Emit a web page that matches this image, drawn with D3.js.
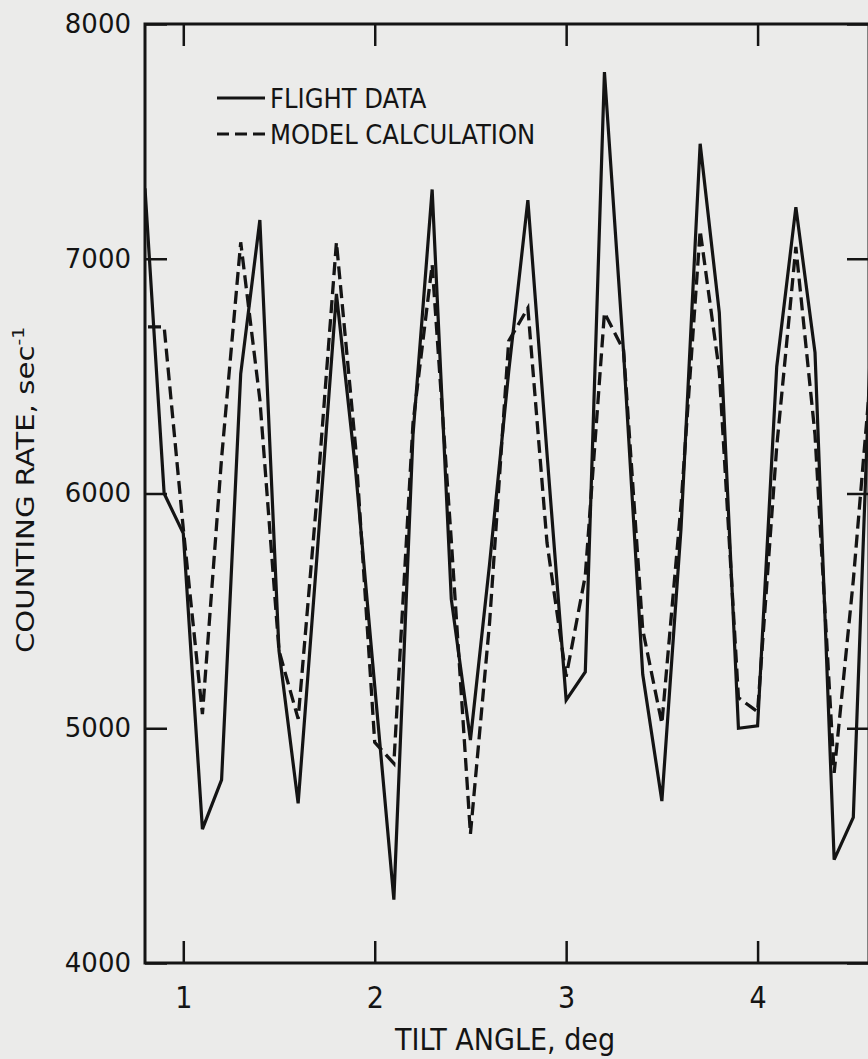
<!DOCTYPE html>
<html>
<head>
<meta charset="utf-8">
<script src="https://cdn.jsdelivr.net/npm/d3@7"></script>
<style>
  body { margin: 0; background: #ebebea; }
  svg { display: block; }
</style>
</head>
<body>
<svg width="868" height="1059"></svg>
<script>
var svg = d3.select('svg')

// tilt angle, deg
var tilt = [0.8, 0.9, 1.0, 1.1, 1.2, 1.3, 1.4, 1.5, 1.6, 1.7, 1.8, 1.9, 2.0, 2.1, 2.2, 2.3, 2.4, 2.5, 2.6, 2.7,
	2.8, 2.9, 3.0, 3.1, 3.2, 3.3, 3.4, 3.5, 3.6, 3.7, 3.8, 3.9, 4.0, 4.1, 4.2, 4.3, 4.4, 4.5, 4.6]

// counting rate, sec^-1
var flightData = [7300, 6000, 5830, 4570, 4780, 6510, 7165, 5330, 4680, 5750, 6850, 6100, 5180, 4270, 6250, 7295, 5550, 4950, 5700, 6520,
	7250, 6170, 5120, 5240, 7795, 6600, 5230, 4690, 5850, 7490, 6770, 5000, 5010, 6540, 7220, 6600, 4440, 4620, 6870]

var modelCalc = [6710, 6710, 5850, 5060, 6150, 7070, 6400, 5330, 5040, 6000, 7070, 6200, 4940, 4850, 6300, 6975, 5800, 4550, 5450, 6650,
	6790, 5790, 5220, 5650, 6770, 6610, 5420, 5020, 5950, 7120, 6520, 5130, 5070, 6200, 7050, 6250, 4810, 5630, 6600]

var xTicks = [1, 2, 3, 4]
var yTicks = [4000, 5000, 6000, 7000, 8000]

var legendItems = [
	{name: "FLIGHT DATA", dash: null},
	{name: "MODEL CALCULATION", dash: "12,6"}
]

var plotLeft = 145, plotRight = 869, plotTop = 24, plotBottom = 963
var narrow = "'Liberation Sans Narrow', 'DejaVu Sans Condensed', 'Arial Narrow', sans-serif"
var ink = '#141414'

var x = d3.scaleLinear().domain([0.8, 4.582]).range([plotLeft, plotRight])
var y = d3.scaleLinear().domain([4000, 8000]).range([plotBottom, plotTop])

svg.append('defs').append('clipPath').attr('id', 'plot')
	.append('rect')
	.attr('x', plotLeft).attr('y', plotTop)
	.attr('width', plotRight - plotLeft).attr('height', plotBottom - plotTop)

//Axes, ticks pointing inwards
function styleAxis(g) {
	g.select('.domain').remove()
	g.selectAll('.tick line').attr('stroke', ink).attr('stroke-width', 2.5)
	g.selectAll('.tick text').attr('fill', ink)
}

svg.append('g')
	.attr('transform', 'translate(0,' + plotBottom + ')')
	.call(d3.axisBottom(x).tickValues(xTicks).tickSize(-22).tickPadding(24).tickFormat(d3.format('d')))
	.call(styleAxis)
	.selectAll('text')
	.attr('font-family', narrow)
	.attr('font-size', 30)

svg.append('g')
	.attr('transform', 'translate(0,' + plotTop + ')')
	.call(d3.axisTop(x).tickValues(xTicks).tickSize(-22).tickFormat(''))
	.call(styleAxis)

svg.append('g')
	.attr('transform', 'translate(' + plotLeft + ',0)')
	.call(d3.axisLeft(y).tickValues(yTicks).tickSize(-22).tickPadding(14).tickFormat(d3.format('d')))
	.call(styleAxis)
	.selectAll('text')
	.attr('font-family', "'DejaVu Sans', sans-serif")
	.attr('font-size', 26)

svg.append('g')
	.attr('transform', 'translate(' + plotRight + ',0)')
	.call(d3.axisRight(y).tickValues(yTicks).tickSize(-22).tickFormat(''))
	.call(styleAxis)

//Frame
svg.append('rect')
	.attr('x', plotLeft).attr('y', plotTop)
	.attr('width', plotRight - plotLeft).attr('height', plotBottom - plotTop)
	.attr('fill', 'none')
	.attr('stroke', ink)
	.attr('stroke-width', 3)

//Curves
var line = d3.line()
	.x(function(d) { return x(d[0]) })
	.y(function(d) { return y(d[1]) })

var curves = svg.append('g').attr('clip-path', 'url(#plot)')

curves.append('path')
	.attr('d', line(d3.zip(tilt, modelCalc)))
	.attr('fill', 'none')
	.attr('stroke', ink)
	.attr('stroke-width', 3.3)
	.attr('stroke-dasharray', '13,6')
	.attr('stroke-dashoffset', -3)
	.attr('stroke-linejoin', 'miter')
	.attr('stroke-miterlimit', 4)

curves.append('path')
	.attr('d', line(d3.zip(tilt, flightData)))
	.attr('fill', 'none')
	.attr('stroke', ink)
	.attr('stroke-width', 3.2)
	.attr('stroke-linejoin', 'miter')
	.attr('stroke-miterlimit', 4)

//Legend
var legend = svg.append('g').attr('transform', 'translate(217,98)')
legendItems.forEach(function(item, i) {
	var row = legend.append('g').attr('transform', 'translate(0,' + (i * 36) + ')')
	var seg = row.append('line')
		.attr('x1', 0).attr('x2', 48)
		.attr('stroke', ink)
		.attr('stroke-width', 3)
	if (item.dash) seg.attr('stroke-dasharray', item.dash)
	row.append('text')
		.attr('x', 53)
		.attr('y', 10)
		.attr('font-family', narrow)
		.attr('font-size', 27)
		.attr('fill', ink)
		.text(item.name)
})

//Axis titles
svg.append('text')
	.attr('x', 505)
	.attr('y', 1050)
	.attr('text-anchor', 'middle')
	.attr('font-family', narrow)
	.attr('font-size', 30)
	.attr('fill', ink)
	.text('TILT ANGLE, deg')

var yTitle = svg.append('text')
	.attr('transform', 'translate(34,490) rotate(-90) scale(1.3,1)')
	.attr('text-anchor', 'middle')
	.attr('font-family', narrow)
	.attr('font-size', 25)
	.attr('fill', ink)
yTitle.append('tspan').text('COUNTING RATE, sec')
yTitle.append('tspan').attr('dy', -10).attr('font-size', 16).text('-1')
</script>
</body>
</html>
